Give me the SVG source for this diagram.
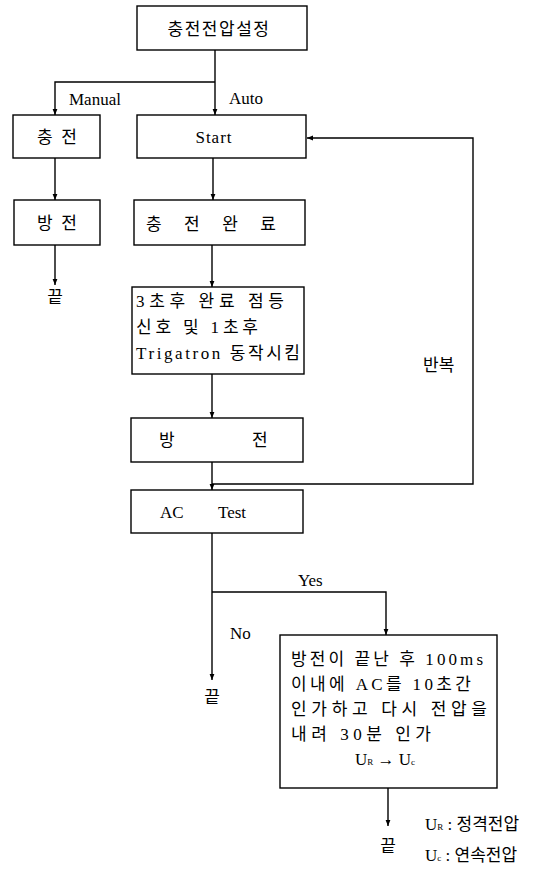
<svg xmlns="http://www.w3.org/2000/svg" width="554" height="869" viewBox="0 0 554 869">
<defs>
<marker id="ah" viewBox="0 0 10 10" refX="10" refY="5" markerWidth="6" markerHeight="9" markerUnits="userSpaceOnUse" orient="auto">
<path d="M0,1 L10,5 L0,9 Z" fill="#000"/>
</marker>
<style>
.box{fill:#fff;stroke:#000;stroke-width:1.4}
.t{font-family:'Liberation Serif','Noto Sans CJK KR',serif;font-size:17px;fill:#000}
.m{text-anchor:middle}
.c{fill:none;stroke:#000;stroke-width:1.4}
.a{marker-end:url(#ah)}
.sub{font-size:9px}
</style>
</defs>
<rect width="554" height="869" fill="#fff"/>
<g id="connectors">
<path class="c a" d="M215,50 V115"/>
<path class="c a" d="M215,82 H55 V115"/>
<path class="c a" d="M55,158 V200"/>
<path class="c a" d="M55,245 V285"/>
<path class="c a" d="M213,158 V200"/>
<path class="c a" d="M212,245 V287"/>
<path class="c a" d="M212,374 V418"/>
<path class="c a" d="M212,462 V490"/>
<path class="c a" d="M212,484 H473 V138 H307"/>
<path class="c a" d="M212,533 V680"/>
<path class="c a" d="M212,592 H386 V635"/>
<path class="c a" d="M388,788 V826"/>
<text class="t" x="69" y="105">Manual</text>
<text class="t" x="229" y="104">Auto</text>
<text class="t" x="423" y="371">반복</text>
<text class="t" x="298" y="586">Yes</text>
<text class="t" x="230" y="639">No</text>
</g>
<g id="n_set"><rect class="box" x="137" y="6" width="170" height="44"/><text class="t m" x="219" y="35" letter-spacing="1.5">충전전압설정</text></g>
<g id="n_charge_m"><rect class="box" x="13" y="115" width="87" height="43"/><text class="t m" x="57" y="143" xml:space="preserve">충  전</text></g>
<g id="n_discharge_m"><rect class="box" x="14" y="200" width="86" height="45"/><text class="t m" x="57" y="229" xml:space="preserve">방  전</text></g>
<g id="n_end1"><text class="t m" x="55" y="303">끝</text></g>
<g id="n_start"><rect class="box" x="137" y="115" width="169" height="43"/><text class="t m" x="214" y="143" letter-spacing="1">Start</text></g>
<g id="n_done"><rect class="box" x="134" y="200" width="171" height="45"/><text class="t" x="146" y="230" textLength="130" lengthAdjust="spacing" xml:space="preserve">충  전  완  료</text></g>
<g id="n_trig"><rect class="box" x="132" y="287" width="172" height="87"/>
<text class="t" x="136" y="307" textLength="148" lengthAdjust="spacing">3초후 완료 점등</text>
<text class="t" x="136" y="333" textLength="122" lengthAdjust="spacing">신호 및 1초후</text>
<text class="t" x="136" y="359" textLength="164" lengthAdjust="spacing">Trigatron 동작시킴</text></g>
<g id="n_discharge"><rect class="box" x="131" y="418" width="172" height="44"/><text class="t" x="159" y="446">방</text><text class="t" x="252" y="446">전</text></g>
<g id="n_actest"><rect class="box" x="131" y="490" width="172" height="43"/><text class="t" x="160" y="518">AC</text><text class="t" x="218" y="518">Test</text></g>
<g id="n_end2"><text class="t m" x="212" y="703">끝</text></g>
<g id="n_ac"><rect class="box" x="280" y="635" width="217" height="153"/>
<text class="t" x="291" y="665" textLength="192" lengthAdjust="spacing">방전이 끝난 후 100ms</text>
<text class="t" x="291" y="690" textLength="180" lengthAdjust="spacing">이내에 AC를 10초간</text>
<text class="t" x="291" y="715" textLength="196" lengthAdjust="spacing">인가하고 다시 전압을</text>
<text class="t" x="291" y="740" textLength="140" lengthAdjust="spacing">내려 30분 인가</text>
<text class="t" x="355" y="765">U<tspan class="sub">R</tspan> → U<tspan class="sub">c</tspan></text></g>
<g id="n_end3"><text class="t m" x="388" y="852">끝</text></g>
<g id="legend">
<text class="t" x="425" y="830">U<tspan class="sub">R</tspan> : 정격전압</text>
<text class="t" x="425" y="861">U<tspan class="sub">c</tspan> : 연속전압</text>
</g>
</svg>
